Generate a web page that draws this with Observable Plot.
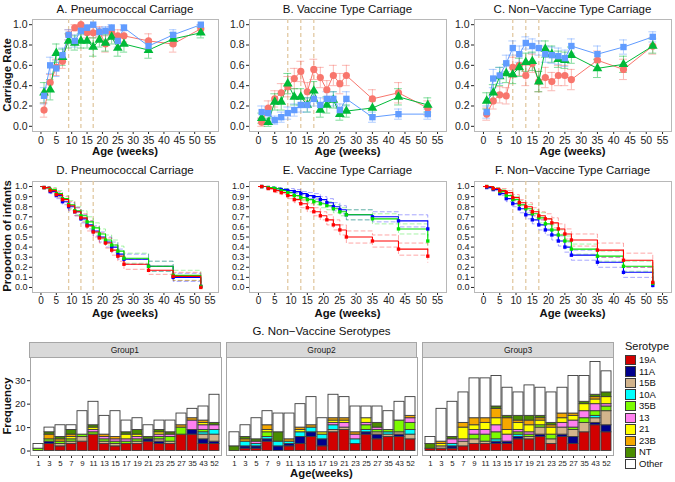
<!DOCTYPE html>
<html><head><meta charset="utf-8">
<script src="https://cdn.jsdelivr.net/npm/d3@7"></script>
<script src="https://cdn.jsdelivr.net/npm/@observablehq/plot@0.6"></script>
<style>
body{margin:0;background:#fff;font-family:"Liberation Sans",Arial,Helvetica,sans-serif;}
#root{position:relative;width:675px;height:482px;overflow:hidden;background:#fff;}
#root svg{position:absolute;overflow:visible;}
.t{position:absolute;white-space:nowrap;transform:translate(-50%,-50%);color:#111;line-height:1;}
.pt{font-size:11.5px;}
.at{font-size:11.3px;font-weight:bold;}
.yt{font-size:11.3px;font-weight:bold;transform:translate(-50%,-50%) rotate(-90deg);}
.strip{position:absolute;background:#d9d9d9;border:1px solid #a6a6a6;box-sizing:border-box;font-size:8.5px;color:#1a1a1a;display:flex;align-items:center;justify-content:center;}
.key{position:absolute;width:11px;height:10.5px;box-sizing:border-box;border:1px solid #3a3a3a;}
.kl{position:absolute;font-size:9.5px;color:#111;transform:translateY(-50%);line-height:1;}
</style>
</head><body><div id="root"></div>
<script>
// ---------- data ----------
const ages = [1,3,5,7,9,11,13,15,17,19,21,23,25,27,35,43,52];
const groups = ["Group1","Group2","Group3"];
const xTicks = [0,5,10,15,20,25,30,35,40,45,50,55];
const vaccWeeks = [9,13,17];
const rateTicks = [0,0.2,0.4,0.6,0.8,1.0];
const survTicks = [0,0.1,0.2,0.3,0.4,0.5,0.6,0.7,0.8,0.9,1.0];

// A. Pneumococcal carriage rate
const rateA_g1 = [0.16,0.43,0.58,0.64,0.90,0.97,1.00,0.92,0.92,0.93,0.81,0.92,0.89,0.89,0.84,0.81,0.96];
const rateA_g2 = [0.33,0.36,0.72,0.68,0.84,0.82,0.84,0.84,0.78,0.85,0.82,0.88,0.77,0.81,0.75,0.86,0.92];
const rateA_g3 = [0.30,0.60,0.57,0.70,0.90,0.84,0.94,0.97,1.00,0.93,0.94,0.97,0.84,0.97,0.79,0.90,1.00];
const errA_g1 = [0.07,0.08,0.08,0.07,0.05,0.03,0.01,0.05,0.05,0.05,0.08,0.06,0.06,0.06,0.07,0.08,0.04];
const errA_g2 = [0.10,0.10,0.09,0.08,0.07,0.07,0.07,0.07,0.09,0.07,0.08,0.07,0.08,0.08,0.08,0.06,0.05];
const errA_g3 = [0.08,0.08,0.08,0.07,0.05,0.06,0.04,0.03,0.02,0.04,0.04,0.03,0.06,0.03,0.06,0.05,0.02];
// B. Vaccine type carriage rate
const rateB_g1 = [0.04,0.18,0.27,0.33,0.39,0.47,0.54,0.34,0.56,0.48,0.36,0.50,0.42,0.50,0.27,0.33,0.18];
const rateB_g2 = [0.08,0.04,0.24,0.24,0.42,0.29,0.29,0.21,0.35,0.16,0.21,0.26,0.12,0.15,0.18,0.29,0.21];
const rateB_g3 = [0.14,0.13,0.06,0.09,0.13,0.16,0.21,0.21,0.27,0.21,0.27,0.27,0.16,0.27,0.09,0.12,0.12];
const errB_g1 = [0.04,0.07,0.08,0.09,0.10,0.10,0.10,0.09,0.10,0.10,0.09,0.10,0.10,0.10,0.09,0.10,0.07];
const errB_g2 = [0.05,0.04,0.08,0.08,0.10,0.08,0.08,0.07,0.09,0.07,0.08,0.08,0.06,0.06,0.07,0.08,0.07];
const errB_g3 = [0.06,0.06,0.04,0.05,0.06,0.06,0.07,0.07,0.07,0.07,0.07,0.07,0.06,0.07,0.05,0.05,0.05];
// C. Non-vaccine type carriage rate
const rateC_g1 = [0.12,0.25,0.31,0.30,0.58,0.60,0.50,0.62,0.44,0.48,0.44,0.50,0.50,0.46,0.65,0.56,0.79];
const rateC_g2 = [0.25,0.33,0.49,0.52,0.51,0.58,0.63,0.64,0.44,0.76,0.71,0.66,0.65,0.70,0.57,0.61,0.79];
const rateC_g3 = [0.14,0.47,0.50,0.62,0.77,0.71,0.82,0.79,0.77,0.71,0.70,0.69,0.67,0.79,0.71,0.78,0.88];
const errC_g1 = [0.06,0.08,0.08,0.08,0.10,0.10,0.10,0.09,0.10,0.10,0.09,0.10,0.10,0.10,0.09,0.10,0.08];
const errC_g2 = [0.08,0.08,0.09,0.09,0.09,0.09,0.09,0.09,0.10,0.08,0.08,0.08,0.08,0.08,0.09,0.08,0.07];
const errC_g3 = [0.06,0.09,0.08,0.08,0.07,0.08,0.06,0.07,0.07,0.08,0.08,0.08,0.08,0.07,0.08,0.07,0.05];

// D-F. Proportion of infants not yet colonised (Kaplan-Meier)
const survD_g1 = [0.99,0.96,0.92,0.87,0.81,0.75,0.69,0.61,0.55,0.49,0.44,0.37,0.31,0.23,0.17,0.11,0.00];
const survD_g2 = [0.99,0.97,0.93,0.88,0.82,0.76,0.71,0.65,0.59,0.53,0.47,0.42,0.36,0.29,0.21,0.12,0.01];
const survD_g3 = [0.99,0.95,0.91,0.85,0.80,0.75,0.68,0.62,0.56,0.50,0.45,0.40,0.33,0.28,0.21,0.10,0.01];
const ciD_g1 = [0.01,0.02,0.03,0.03,0.04,0.04,0.04,0.05,0.05,0.05,0.05,0.05,0.05,0.05,0.04,0.04,0.00];
const ciD_g2 = [0.01,0.02,0.03,0.03,0.04,0.04,0.05,0.05,0.05,0.05,0.05,0.05,0.05,0.05,0.05,0.05,0.01];
const ciD_g3 = [0.01,0.02,0.03,0.03,0.04,0.04,0.04,0.04,0.05,0.05,0.05,0.05,0.05,0.05,0.05,0.04,0.01];
const survE_g1 = [1.00,0.98,0.96,0.94,0.91,0.87,0.83,0.79,0.75,0.71,0.67,0.62,0.57,0.50,0.46,0.38,0.31];
const survE_g2 = [1.00,0.99,0.98,0.96,0.94,0.91,0.89,0.87,0.85,0.83,0.81,0.78,0.75,0.72,0.68,0.58,0.46];
const survE_g3 = [1.00,0.99,0.98,0.97,0.96,0.95,0.93,0.91,0.90,0.87,0.84,0.80,0.77,0.72,0.70,0.66,0.58];
const ciE_g1 = [0.00,0.01,0.02,0.02,0.03,0.03,0.04,0.04,0.04,0.04,0.05,0.05,0.05,0.06,0.06,0.06,0.06];
const ciE_g2 = [0.00,0.01,0.01,0.02,0.02,0.03,0.03,0.03,0.03,0.04,0.04,0.04,0.04,0.05,0.05,0.05,0.06];
const ciE_g3 = [0.00,0.01,0.01,0.01,0.02,0.02,0.02,0.03,0.03,0.03,0.04,0.04,0.04,0.05,0.05,0.06,0.07];
const survF_g1 = [1.00,0.98,0.96,0.94,0.89,0.84,0.80,0.75,0.71,0.68,0.64,0.58,0.53,0.47,0.37,0.27,0.05];
const survF_g2 = [1.00,0.98,0.95,0.91,0.87,0.82,0.78,0.73,0.69,0.63,0.57,0.52,0.46,0.38,0.31,0.21,0.04];
const survF_g3 = [0.99,0.97,0.93,0.88,0.83,0.78,0.72,0.67,0.62,0.57,0.52,0.46,0.40,0.32,0.25,0.15,0.02];
const ciF_g1 = [0.00,0.01,0.02,0.02,0.03,0.03,0.04,0.04,0.04,0.05,0.05,0.05,0.05,0.06,0.07,0.07,0.03];
const ciF_g2 = [0.00,0.01,0.02,0.03,0.03,0.04,0.04,0.04,0.05,0.05,0.05,0.05,0.05,0.05,0.05,0.05,0.03];
const ciF_g3 = [0.01,0.01,0.02,0.03,0.03,0.04,0.04,0.04,0.05,0.05,0.05,0.05,0.05,0.05,0.05,0.05,0.02];

// G. Non-vaccine serotypes: counts per week, columns in serotype order
const weekLabels = ["1","3","5","7","9","11","13","15","17","19","21","23","25","27","35","43","52"];
const serotypes = ["19A","11A","15B","10A","35B","13","21","23B","NT","Other"];
const seroColors = ["#d20000","#00008b","#d2b48c","#00ffff","#7cfc00","#ff80f0","#ffff00","#f5a800","#4a8c00","#ffffff"];
const countsG1 = [
 [0,0,0,0,1,0,0,0,0,2],[3,1,0,0,1,0,0,2,1,2],[2,0,1,0,1,0,0,1,1,5],[3,0,1,0,1,0,1,1,2,2],
 [4,0,2,0,1,0,0,0,0,10],[7,0,0,0,1,1,1,0,1,10],[3,0,1,0,1,1,0,1,0,8],[2,0,1,0,1,1,0,1,0,11],
 [3,0,0,0,1,1,2,0,1,5],[3,0,1,0,1,1,1,0,2,5],[4,1,0,0,0,0,0,0,1,5],[3,1,1,0,1,1,1,0,1,4],
 [3,0,1,0,2,1,0,0,1,5],[7,0,0,0,3,0,0,1,0,5],[7,2,0,0,0,4,0,1,0,4],[3,2,2,1,1,2,1,1,0,6],
 [3,1,3,2,0,2,0,0,1,12]];
const countsG2 = [
 [0,0,0,0,0,0,0,0,2,6],[1,1,0,2,0,0,0,1,1,5],[1,1,0,1,0,1,0,0,1,9],[4,1,0,1,2,0,1,2,0,6],
 [0,2,0,2,0,0,0,0,4,8],[2,1,0,1,0,0,0,1,0,11],[3,3,0,2,0,0,1,1,0,10],[6,2,0,2,0,0,0,1,0,12],
 [2,3,0,2,0,0,1,0,0,6],[8,0,1,2,0,1,1,1,0,10],[9,0,1,0,0,2,1,1,0,9],[3,0,0,2,0,2,0,1,0,11],
 [7,1,0,1,2,1,2,0,0,5],[5,2,1,0,1,1,0,0,2,7],[6,0,1,1,1,0,0,0,0,8],[6,1,1,0,5,0,0,0,0,8],
 [5,0,2,2,3,2,0,1,0,8]];
const countsG3 = [
 [1,0,0,0,0,0,0,0,2,3],[1,0,1,0,0,0,1,1,0,14],[1,1,0,1,0,2,0,0,1,15],[2,0,2,0,0,1,5,2,0,13],
 [3,0,2,0,2,2,2,3,0,17],[3,0,1,0,3,2,3,2,0,17],[3,1,0,1,3,3,3,4,1,13],[3,1,0,0,0,3,2,5,1,12],
 [5,1,0,1,1,1,3,1,2,10],[5,0,1,0,1,1,3,2,2,13],[6,1,3,0,1,0,2,1,1,12],[3,0,2,0,2,0,3,1,1,13],
 [6,1,3,0,0,2,2,2,0,11],[3,3,3,0,1,3,2,1,0,16],[8,0,4,0,2,3,3,0,1,11],[11,1,2,1,2,3,2,1,1,14],
 [8,3,6,0,2,1,3,0,2,9]];

// ---------- styling ----------
const rateColors = ["#F8766D","#00BA38","#619CFF"];
const rateShapes = ["circle","triangle","square"];
const survColors = ["#ff0000","#00e000","#0000ff"];
const FONT = '"Liberation Sans", Arial, Helvetica, sans-serif';
const root = document.getElementById("root");

function place(el, left, top) { el.style.left = left + "px"; el.style.top = top + "px"; root.appendChild(el); }
function label(text, cls, x, y) { const d = document.createElement("div"); d.className = "t " + cls; d.textContent = text; place(d, x, y); }
function axisFont(svg, axis, size) {
  svg.querySelectorAll('[aria-label^="' + axis + '-axis"]').forEach(g => { g.style.fontSize = size; g.setAttribute("font-size", size); });
}

const cols = [
  {left: 0, width: 225, ml: 32, mr: 7},
  {left: 225, width: 225, ml: 24, mr: 4},
  {left: 450, width: 225, ml: 24, mr: 4}
];

function ratePanel(series, errs, col, top) {
  const rows = [];
  series.forEach((vals, g) => vals.forEach((v, i) => rows.push({
    age: ages[i], rate: v, lo: Math.max(0, v - errs[g][i]), hi: Math.min(1, v + errs[g][i]), group: groups[g]})));
  const svg = Plot.plot({
    width: col.width, height: 160,
    marginLeft: col.ml, marginRight: col.mr, marginTop: 19, marginBottom: 29,
    style: {fontSize: "10.5px", fontFamily: FONT, color: "#222", background: "transparent"},
    x: {domain: [-2.75, 57.75], ticks: xTicks, tickSize: 3, tickPadding: 2, label: null},
    y: {domain: [-0.051, 1.051], ticks: rateTicks, tickFormat: d3.format(".1f"), tickSize: 3, tickPadding: 2, label: null},
    color: {domain: groups, range: rateColors},
    symbol: {domain: groups, range: rateShapes},
    marks: [
      Plot.frame({stroke: "#b8b8b8"}),
      Plot.ruleX(vaccWeeks, {stroke: "#e2c9a2", strokeDasharray: "4,3", strokeWidth: 1.3}),
      Plot.ruleX(rows, {x: "age", y1: "lo", y2: "hi", stroke: "group", strokeOpacity: 0.5}),
      Plot.ruleY(rows, {y: "lo", x1: d => d.age - 1.2, x2: d => d.age + 1.2, stroke: "group", strokeOpacity: 0.5}),
      Plot.ruleY(rows, {y: "hi", x1: d => d.age - 1.2, x2: d => d.age + 1.2, stroke: "group", strokeOpacity: 0.5}),
      Plot.line(rows, {x: "age", y: "rate", z: "group", stroke: "group", strokeWidth: 1}),
      Plot.dot(rows, {x: "age", y: "rate", fill: "group", symbol: "group", r: 3.6, stroke: "none"})
    ]
  });
  place(svg, col.left, top);
}

function survPanel(series, cis, col, top) {
  const lines = [], pts = [];
  for (let g = series.length - 1; g >= 0; g--) {
    const grp = groups[g];
    lines.push({age: 0, s: 1, key: grp + "-s", kind: "s", group: grp});
    lines.push({age: 0, s: 1, key: grp + "-u", kind: "ci", group: grp});
    lines.push({age: 0, s: 1, key: grp + "-l", kind: "ci", group: grp});
    series[g].forEach((v, i) => {
      lines.push({age: ages[i], s: v, key: grp + "-s", kind: "s", group: grp});
      lines.push({age: ages[i], s: Math.min(1, v + cis[g][i]), key: grp + "-u", kind: "ci", group: grp});
      lines.push({age: ages[i], s: Math.max(0, v - cis[g][i]), key: grp + "-l", kind: "ci", group: grp});
      pts.push({age: ages[i], s: v, group: grp});
    });
  }
  const svg = Plot.plot({
    width: col.width, height: 160,
    marginLeft: col.ml, marginRight: col.mr, marginTop: 21, marginBottom: 28,
    style: {fontSize: "10.5px", fontFamily: FONT, color: "#222", background: "transparent"},
    x: {domain: [-2.75, 57.75], ticks: xTicks, tickSize: 3, tickPadding: 1, label: null},
    y: {domain: [-0.05, 1.05], ticks: survTicks, tickFormat: d3.format(".1f"), tickSize: 3, tickPadding: 2, label: null},
    color: {domain: groups, range: survColors},
    marks: [
      Plot.frame({stroke: "#b8b8b8"}),
      Plot.ruleX(vaccWeeks, {stroke: "#e2c9a2", strokeDasharray: "4,3", strokeWidth: 1.3}),
      Plot.line(lines.filter(d => d.kind === "ci"), {x: "age", y: "s", z: "key", stroke: "group", curve: "step-after", strokeOpacity: 0.35, strokeDasharray: "4,3", strokeWidth: 1}),
      Plot.line(lines.filter(d => d.kind === "s"), {x: "age", y: "s", z: "key", stroke: "group", curve: "step-after", strokeWidth: 1.1}),
      Plot.dot(pts, {x: "age", y: "s", fill: "group", symbol: "square", r: 1.9, stroke: "none"})
    ]
  });
  axisFont(svg, "y", "9px");
  axisFont(svg, "x", "10px");
  place(svg, col.left, top);
}

// Top row
ratePanel([rateA_g1, rateA_g2, rateA_g3], [errA_g1, errA_g2, errA_g3], cols[0], 0);
ratePanel([rateB_g1, rateB_g2, rateB_g3], [errB_g1, errB_g2, errB_g3], cols[1], 0);
ratePanel([rateC_g1, rateC_g2, rateC_g3], [errC_g1, errC_g2, errC_g3], cols[2], 0);
// Middle row
survPanel([survD_g1, survD_g2, survD_g3], [ciD_g1, ciD_g2, ciD_g3], cols[0], 160);
survPanel([survE_g1, survE_g2, survE_g3], [ciE_g1, ciE_g2, ciE_g3], cols[1], 160);
survPanel([survF_g1, survF_g2, survF_g3], [ciF_g1, ciF_g2, ciF_g3], cols[2], 160);

// Titles for top and middle rows
const topTitles = ["A. Pneumococcal Carriage", "B. Vaccine Type Carriage", "C. Non\u2212Vaccine Type Carriage"];
const midTitles = ["D. Pneumococcal Carriage", "E. Vaccine Type Carriage", "F. Non\u2212Vaccine Type Carriage"];
cols.forEach((c, i) => {
  const cx = c.left + c.ml + (c.width - c.ml - c.mr) / 2;
  label(topTitles[i], "pt", cx, 10);
  label("Age (weeks)", "at", cx, 152);
  label(midTitles[i], "pt", cx, 171);
  label("Age (weeks)", "at", cx, 314);
});
label("Carriage Rate", "yt", 8, 75);
label("Proportion of infants", "yt", 8, 236);

// Bottom row (G)
const gRows = [];
[countsG1, countsG2, countsG3].forEach((tbl, gi) => tbl.forEach((row, wi) => row.forEach((c, si) => {
  if (c > 0) gRows.push({group: groups[gi], week: weekLabels[wi], serotype: serotypes[si], count: c});
})));
const gML = 29, gMR = 61, gW = 675, gPadIn = 0.025;
const gSvg = Plot.plot({
  width: gW, height: 162,
  marginLeft: gML, marginRight: gMR, marginTop: 37, marginBottom: 27,
  style: {fontSize: "9px", fontFamily: FONT, color: "#222", background: "transparent"},
  facet: {data: gRows, x: "group"},
  fx: {domain: groups, paddingInner: gPadIn, paddingOuter: 0, axis: null, label: null},
  x: {domain: weekLabels, paddingInner: 0.1, paddingOuter: 0.15, tickSize: 3, tickPadding: 2, label: null},
  y: {domain: [-1.9, 39.9], ticks: [0,10,20,30], tickSize: 3, tickPadding: 2, label: null},
  color: {domain: serotypes, range: seroColors},
  marks: [
    Plot.frame({stroke: "#a6a6a6"}),
    Plot.barY(gRows, {x: "week", y: "count", fill: "serotype", order: serotypes, stroke: "#3c3c3c", strokeWidth: 0.9})
  ]
});
axisFont(gSvg, "x", "7.8px");
axisFont(gSvg, "y", "9.5px");
place(gSvg, 0, 320);

const gInner = gW - gML - gMR;
const gStep = gInner / (groups.length - gPadIn);
const gBw = gStep * (1 - gPadIn);
groups.forEach((g, i) => {
  const s = document.createElement("div");
  s.className = "strip";
  s.textContent = g;
  s.style.width = gBw + "px";
  s.style.height = "16px";
  place(s, gML + i * gStep, 342);
});
label("G. Non\u2212Vaccine Serotypes", "pt", gML + gInner / 2, 332);
label("Age(weeks)", "at", gML + gInner / 2, 474);
label("Frequency", "yt", 8, 406);

// Legend
const lt = document.createElement("div");
lt.className = "kl"; lt.style.fontSize = "11px"; lt.textContent = "Serotype";
place(lt, 625, 346);
serotypes.forEach((s, i) => {
  const cy = 360 + i * 11.56;
  const k = document.createElement("div");
  k.className = "key"; k.style.background = seroColors[i];
  place(k, 625, cy - 5.25);
  const t = document.createElement("div");
  t.className = "kl"; t.textContent = s;
  place(t, 639, cy);
});
</script>
</body></html>
